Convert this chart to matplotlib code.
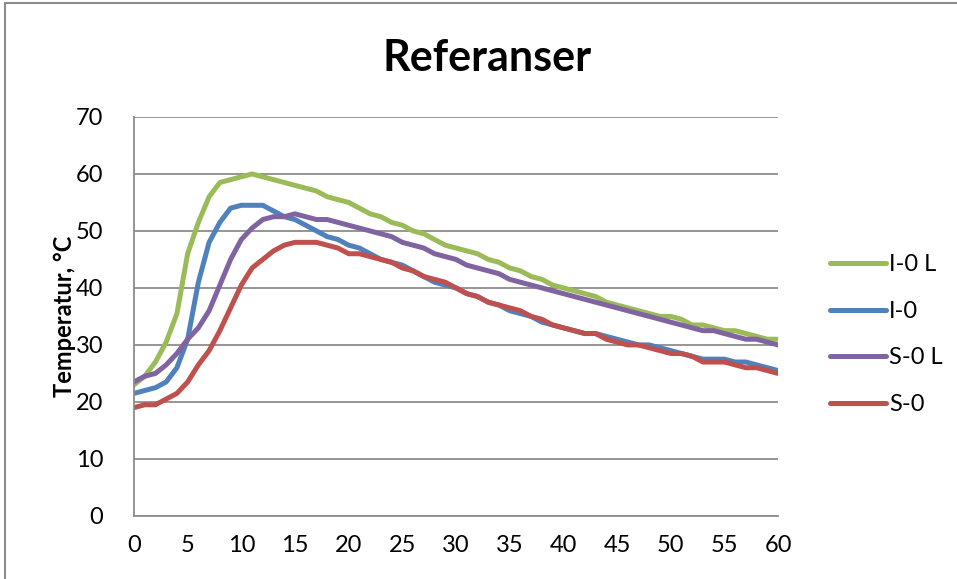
import matplotlib
matplotlib.use("Agg")
import matplotlib.pyplot as plt
from matplotlib.lines import Line2D


# minutes
minutes = list(range(0, 61))

# I-0 L
i0_l = [
    23.0, 24.5, 27.0, 30.5, 35.5, 46.0, 51.5, 56.0, 58.5, 59.0,
    59.5, 60.0, 59.5, 59.0, 58.5, 58.0, 57.5, 57.0, 56.0, 55.5,
    55.0, 54.0, 53.0, 52.5, 51.5, 51.0, 50.0, 49.5, 48.5, 47.5,
    47.0, 46.5, 46.0, 45.0, 44.5, 43.5, 43.0, 42.0, 41.5, 40.5,
    40.0, 39.5, 39.0, 38.5, 37.5, 37.0, 36.5, 36.0, 35.5, 35.0,
    35.0, 34.5, 33.5, 33.5, 33.0, 32.5, 32.5, 32.0, 31.5, 31.0,
    31.0,
]

# I-0
i0 = [
    21.5, 22.0, 22.5, 23.5, 26.0, 31.0, 41.0, 48.0, 51.5, 54.0,
    54.5, 54.5, 54.5, 53.5, 52.5, 52.0, 51.0, 50.0, 49.0, 48.5,
    47.5, 47.0, 46.0, 45.0, 44.5, 44.0, 43.0, 42.0, 41.0, 40.5,
    40.0, 39.0, 38.5, 37.5, 37.0, 36.0, 35.5, 35.0, 34.0, 33.5,
    33.0, 32.5, 32.0, 32.0, 31.5, 31.0, 30.5, 30.0, 30.0, 29.5,
    29.0, 28.5, 28.0, 27.5, 27.5, 27.5, 27.0, 27.0, 26.5, 26.0,
    25.5,
]

# S-0 L
s0_l = [
    23.5, 24.5, 25.0, 26.5, 28.5, 31.0, 33.0, 36.0, 40.5, 45.0,
    48.5, 50.5, 52.0, 52.5, 52.5, 53.0, 52.5, 52.0, 52.0, 51.5,
    51.0, 50.5, 50.0, 49.5, 49.0, 48.0, 47.5, 47.0, 46.0, 45.5,
    45.0, 44.0, 43.5, 43.0, 42.5, 41.5, 41.0, 40.5, 40.0, 39.5,
    39.0, 38.5, 38.0, 37.5, 37.0, 36.5, 36.0, 35.5, 35.0, 34.5,
    34.0, 33.5, 33.0, 32.5, 32.5, 32.0, 31.5, 31.0, 31.0, 30.5,
    30.0,
]

# S-0
s0 = [
    19.0, 19.5, 19.5, 20.5, 21.5, 23.5, 26.5, 29.0, 32.5, 36.5,
    40.5, 43.5, 45.0, 46.5, 47.5, 48.0, 48.0, 48.0, 47.5, 47.0,
    46.0, 46.0, 45.5, 45.0, 44.5, 43.5, 43.0, 42.0, 41.5, 41.0,
    40.0, 39.0, 38.5, 37.5, 37.0, 36.5, 36.0, 35.0, 34.5, 33.5,
    33.0, 32.5, 32.0, 32.0, 31.0, 30.5, 30.0, 30.0, 29.5, 29.0,
    28.5, 28.5, 28.0, 27.0, 27.0, 27.0, 26.5, 26.0, 26.0, 25.5,
    25.0,
]

series_names = ["I-0 L", "I-0", "S-0 L", "S-0"]
series_colors = ["#9BBB59", "#4F81BD", "#8064A2", "#C0504D"]

x_ticks = list(range(0, 61, 5))
y_ticks = list(range(0, 71, 10))


plt.rcParams["font.family"] = ["Lato", "DejaVu Sans"]

fig = plt.figure(
    figsize=(9.57, 5.79),
    dpi=100
)

ax = fig.add_axes([0.140, 0.109, 0.673, 0.689])


# -------------------------------------------------
# Lines
# -------------------------------------------------

handles = []

for values, name, color in zip(
    [i0_l, i0, s0_l, s0],
    series_names,
    series_colors
):
    ax.plot(
        minutes,
        values,
        color=color,
        linewidth=3.6,
        solid_joinstyle="round",
        solid_capstyle="round",
        label=name
    )

    handles.append(
        Line2D([0], [0], color=color, linewidth=3.6,
               solid_capstyle="round")
    )


# -------------------------------------------------
# Axes styling
# -------------------------------------------------

ax.set_xlim(0, 60)
ax.set_ylim(0, 70)

ax.set_xticks(x_ticks)
ax.set_yticks(y_ticks)

ax.tick_params(
    axis="both",
    length=0,
    labelsize=17,
    colors="black"
)
ax.tick_params(axis="x", pad=14)
ax.tick_params(axis="y", pad=22)

ax.grid(
    axis="y",
    color="#8C8C8C",
    linewidth=1.3
)
ax.set_axisbelow(True)

for side in ["top", "right"]:
    ax.spines[side].set_visible(False)

for side in ["left", "bottom"]:
    ax.spines[side].set_color("#8C8C8C")
    ax.spines[side].set_linewidth(1.3)

ax.set_ylabel(
    "Temperatur, °C",
    fontsize=17,
    fontweight="bold",
    labelpad=0
)


# -------------------------------------------------
# Title and legend
# -------------------------------------------------

fig.text(
    0.509,
    0.90,
    "Referanser",
    ha="center",
    va="center",
    fontsize=31,
    fontweight="bold"
)

fig.legend(
    handles,
    series_names,
    loc="center left",
    bbox_to_anchor=(0.867, 0.422),
    frameon=False,
    borderpad=0,
    borderaxespad=0,
    fontsize=17,
    handlelength=2.4,
    handletextpad=0.1,
    labelspacing=1.08
)


# chart border (left and top edges only are visible)
fig.add_artist(
    Line2D([5 / 957, 5 / 957], [0, 1 - 3 / 579],
           transform=fig.transFigure, color="#8C8C8C", linewidth=1.5)
)
fig.add_artist(
    Line2D([5 / 957, 1], [1 - 3 / 579, 1 - 3 / 579],
           transform=fig.transFigure, color="#8C8C8C", linewidth=1.5)
)


fig.savefig("out.png", dpi=100)
plt.close(fig)
